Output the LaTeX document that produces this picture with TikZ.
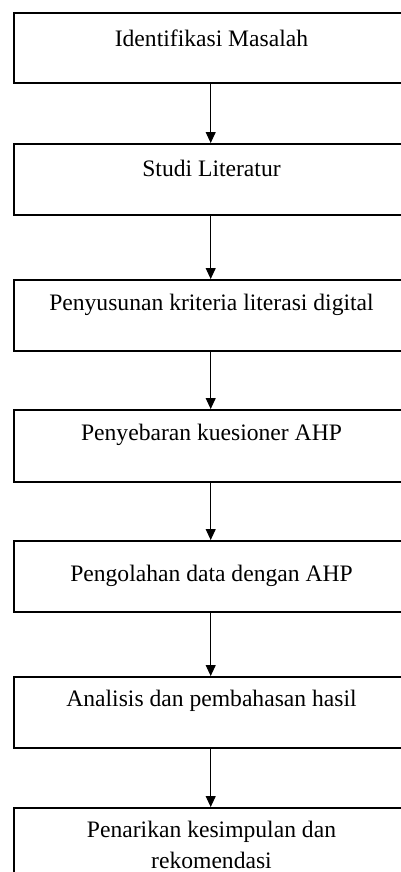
\documentclass[tikz,border=0pt]{standalone}
\usepackage{fontspec}
\setmainfont{Liberation Serif}
\usetikzlibrary{arrows.meta}
\begin{document}
\begin{tikzpicture}[x=1pt,y=-1pt,
  box/.style={draw=black,line width=1.8pt,rectangle,minimum width=393.4pt,inner sep=0pt,anchor=north},
  lbl/.style={anchor=base,font=\fontsize{23.6}{28}\selectfont,inner sep=0pt},
  flow/.style={line width=1pt,-{Triangle[width=10pt,length=11pt]}}]
\clip (0,0) rectangle (401,872);
\useasboundingbox (0,0) rectangle (401,872);
% boxes
\node[box,minimum height=70pt] (b1) at (210.7,12) {};
\node[box,minimum height=71pt] (b2) at (210.7,143) {};
\node[box,minimum height=71pt] (b3) at (210.7,279) {};
\node[box,minimum height=72pt] (b4) at (210.7,409) {};
\node[box,minimum height=71pt] (b5) at (210.7,540) {};
\node[box,minimum height=71pt] (b6) at (210.7,676) {};
\node[box,minimum height=80pt] (b7) at (210.7,807) {};
% labels
\node[lbl] (t1) at (211.5,46.7) {Identifikasi Masalah};
\node[lbl] (t2) at (211.5,176.7) {Studi Literatur};
\node[lbl] (t3) at (211.5,310) {Penyusunan kriteria literasi digital};
\node[lbl] (t4) at (211.5,440.7) {Penyebaran kuesioner AHP};
\node[lbl] (t5) at (211.5,581.7) {Pengolahan data dengan AHP};
\node[lbl] (t6) at (211.5,706.7) {Analisis dan pembahasan hasil};
\node[lbl] (t7a) at (211.5,837) {Penarikan kesimpulan dan};
\node[lbl] (t7b) at (211.5,868) {rekomendasi};
% connectors
\draw[flow] (b1.south) -- (b2.north);
\draw[flow] (b2.south) -- (b3.north);
\draw[flow] (b3.south) -- (b4.north);
\draw[flow] (b4.south) -- (b5.north);
\draw[flow] (b5.south) -- (b6.north);
\draw[flow] (b6.south) -- (b7.north);
\end{tikzpicture}
\end{document}
